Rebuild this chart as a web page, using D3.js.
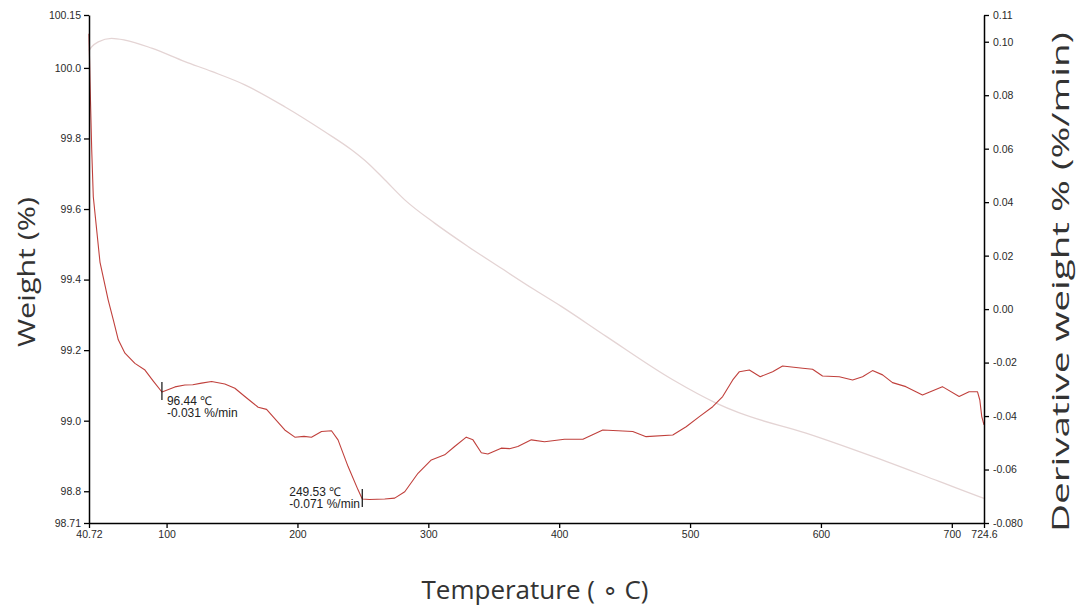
<!DOCTYPE html>
<html>
<head>
<meta charset="utf-8">
<script src="https://cdn.jsdelivr.net/npm/d3@7"></script>
<style>
  html, body { margin: 0; padding: 0; background: #fff; }
  svg { display: block; }
  .tick text { font-family: "Liberation Sans", Arial, sans-serif; font-size: 10.5px; fill: #2a2a2a; }
  .title { font-family: "Open Sans", "Noto Sans", sans-serif; fill: #333; }
  .note { font-family: "Liberation Sans", Arial, sans-serif; font-size: 12px; fill: #222; }
</style>
</head>
<body>
<svg id="chart" width="1086" height="611"></svg>
<script>
// TGA run: weight (%) and its derivative (%/min) against temperature (°C)
const weightTemp = [40.72, 42.8, 47.8, 58, 68.2, 88.6, 114, 134.4, 159.8, 190.3, 220.9, 241.3, 253.9, 266.7, 282, 304.8, 330.3, 355.8, 381.2, 401.6, 435.9, 486.8, 519.9, 537.7, 588.6, 639.4, 690.3, 720.9, 724.6];
const weightPct  = [100.05, 100.06, 100.074, 100.084, 100.079, 100.056, 100.018, 99.99, 99.952, 99.89, 99.819, 99.768, 99.73, 99.683, 99.626, 99.56, 99.494, 99.432, 99.371, 99.324, 99.239, 99.116, 99.05, 99.022, 98.965, 98.899, 98.828, 98.785, 98.78];

const derivTemp = [40.72, 41.5, 42.8, 44.0, 49.1, 55.4, 59.3, 63.1, 68.2, 75.8, 83.5, 90, 96.44, 99, 106.4, 114, 120, 126.7, 134.4, 144.5, 152.2, 159.8, 170, 176.4, 190.3, 198, 205, 210.7, 218.4, 226, 231, 238.7, 246.3, 249.53, 255, 266.7, 274.3, 282, 292.1, 302.3, 312.5, 320.1, 329, 334.1, 340.5, 345.5, 355.7, 362, 368.4, 378.7, 388.8, 404.1, 418.1, 433.3, 445, 456.2, 466.4, 486.8, 497, 507.1, 517.3, 524.9, 532.6, 537.7, 545.3, 553.6, 563.1, 570.7, 586.1, 593.6, 601.2, 614, 624.2, 631.8, 639.4, 647.1, 654.7, 664.9, 677.6, 692.8, 705.6, 713.2, 719.6, 721.4, 722.9, 724.6];
const derivRate = [0.103, 0.085, 0.0595, 0.042, 0.0176, 0.0034, -0.004, -0.0115, -0.0165, -0.0203, -0.0228, -0.027, -0.031, -0.0305, -0.0291, -0.0284, -0.0283, -0.0277, -0.0271, -0.028, -0.0296, -0.0327, -0.0367, -0.0375, -0.0452, -0.0479, -0.0476, -0.0479, -0.0458, -0.0455, -0.0489, -0.0589, -0.0676, -0.071, -0.0712, -0.071, -0.0707, -0.0683, -0.0614, -0.0564, -0.0545, -0.0514, -0.0479, -0.0489, -0.0537, -0.0542, -0.052, -0.0522, -0.0514, -0.0489, -0.0496, -0.0487, -0.0487, -0.0452, -0.0455, -0.0458, -0.0477, -0.0471, -0.044, -0.0402, -0.0365, -0.0327, -0.0265, -0.0234, -0.0228, -0.0253, -0.0234, -0.0213, -0.0221, -0.0225, -0.025, -0.0253, -0.0265, -0.0253, -0.023, -0.0246, -0.0275, -0.029, -0.0321, -0.029, -0.0327, -0.0309, -0.0309, -0.034, -0.0402, -0.0433];

// Peak markers on the derivative curve
const peakTemps = [96.44, 249.53];
const peakRates = [-0.031, -0.071];

// Axis ticks and their printed labels
const tempTicks   = [40.72, 100, 200, 300, 400, 500, 600, 700, 724.6];
const tempLabels  = ["40.72", "100", "200", "300", "400", "500", "600", "700", "724.6"];
const weightTicks = [98.71, 98.8, 99.0, 99.2, 99.4, 99.6, 99.8, 100.0, 100.15];
const weightLabels = ["98.71", "98.8", "99.0", "99.2", "99.4", "99.6", "99.8", "100.0", "100.15"];
const rateTicks   = [-0.08, -0.06, -0.04, -0.02, 0.0, 0.02, 0.04, 0.06, 0.08, 0.10, 0.11];
const rateLabels  = ["-0.080", "-0.06", "-0.04", "-0.02", "0.00", "0.02", "0.04", "0.06", "0.08", "0.10", "0.11"];

const svg = d3.select("#chart");
const plotL = 89, plotR = 984, plotT = 15, plotB = 523;

const x  = d3.scaleLinear().domain([40.72, 724.6]).range([plotL, plotR]);
const yL = d3.scaleLinear().domain([98.71, 100.15]).range([plotB, plotT]);
const yR = d3.scaleLinear().domain([-0.08, 0.11]).range([plotB, plotT]);

// Curves
const weightLine = d3.line().x((d, i) => x(weightTemp[i])).y(d => yL(d)).curve(d3.curveMonotoneX);
const derivLine  = d3.line().x((d, i) => x(derivTemp[i])).y(d => yR(d)).curve(d3.curveLinear);

svg.append("path")
  .attr("d", weightLine(weightPct))
  .attr("fill", "none")
  .attr("stroke", "#e4d4d4")
  .attr("stroke-width", 1.3);

svg.append("path")
  .attr("d", derivLine(derivRate))
  .attr("fill", "none")
  .attr("stroke", "#c0403c")
  .attr("stroke-width", 1.1)
  .attr("stroke-linejoin", "round");

// Axes
function styleAxis(g) {
  g.select(".domain").attr("stroke", "#000").attr("stroke-width", 1.5);
  g.selectAll(".tick line").attr("stroke", "#000").attr("stroke-width", 1.3);
}

svg.append("g")
  .attr("transform", `translate(${plotL},0)`)
  .call(d3.axisLeft(yL).tickValues(weightTicks).tickFormat((d, i) => weightLabels[i]).tickSize(5).tickSizeOuter(0).tickPadding(3))
  .call(styleAxis);

svg.append("g")
  .attr("transform", `translate(${plotR},0)`)
  .call(d3.axisRight(yR).tickValues(rateTicks).tickFormat((d, i) => rateLabels[i]).tickSize(5).tickSizeOuter(0).tickPadding(4))
  .call(styleAxis);

svg.append("g")
  .attr("transform", `translate(0,${plotB})`)
  .call(d3.axisBottom(x).tickValues(tempTicks).tickFormat((d, i) => tempLabels[i]).tickSize(5).tickSizeOuter(0).tickPadding(3))
  .call(styleAxis);

// Peak annotations
const notes = svg.append("g");
peakTemps.forEach((t, i) => {
  const px = x(t), py = yR(peakRates[i]);
  notes.append("line")
    .attr("x1", px).attr("x2", px)
    .attr("y1", py - 10).attr("y2", py + 8)
    .attr("stroke", "#111").attr("stroke-width", 1.2);
  const tx = i === 0 ? px + 5 : px - 73;
  const ty = i === 0 ? py + 13 : py - 3;
  notes.append("text").attr("class", "note").attr("x", tx).attr("y", ty)
    .text(`${t.toFixed(2)} \u2103`);
  notes.append("text").attr("class", "note").attr("x", tx).attr("y", ty + 12)
    .text(`${peakRates[i].toFixed(3)} %/min`);
});

// Axis titles (the two vertical ones are drawn elongated along the axis)
svg.append("text").attr("class", "title")
  .attr("transform", `translate(35,272) rotate(-90)`)
  .attr("text-anchor", "middle")
  .attr("textLength", 150)
  .attr("lengthAdjust", "spacingAndGlyphs")
  .style("font-size", "24px")
  .text("Weight (%)");

svg.append("text").attr("class", "title")
  .attr("transform", `translate(1069,282) rotate(-90)`)
  .attr("text-anchor", "middle")
  .attr("textLength", 500)
  .attr("lengthAdjust", "spacingAndGlyphs")
  .style("font-size", "24px")
  .text("Derivative weight % (%/min)");

svg.append("text").attr("class", "title")
  .attr("x", 535).attr("y", 599)
  .attr("text-anchor", "middle")
  .style("font-size", "26px")
  .text("Temperature ( \u2218 C)");
</script>
</body>
</html>
